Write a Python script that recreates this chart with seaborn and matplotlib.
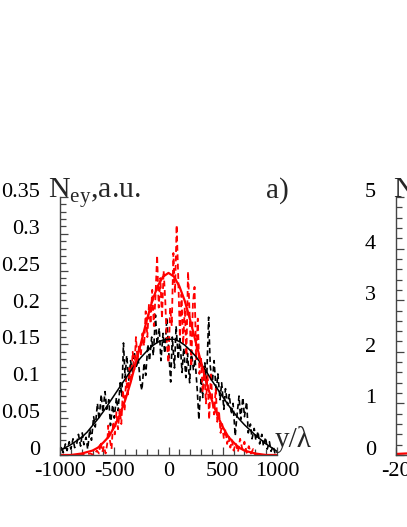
import numpy as np
import pandas as pd
import seaborn as sns
import matplotlib
matplotlib.use("Agg")
import matplotlib.pyplot as plt
from matplotlib.ticker import MultipleLocator

# ---- data ----
# smooth fits (x in units of lambda)
fit_x = [-1000, -950, -900, -850, -800, -750, -700, -650, -600, -550,
         -500, -450, -400, -350, -300, -250, -200, -150, -100, -50,
         0, 50, 100, 150, 200, 250, 300, 350, 400, 450,
         500, 550, 600, 650, 700, 750, 800, 850, 900, 950, 1000]
black_fit = [0.006, 0.010, 0.014, 0.019, 0.024, 0.031, 0.040, 0.049, 0.059, 0.070,
             0.081, 0.092, 0.103, 0.114, 0.124, 0.133, 0.141, 0.148, 0.153, 0.156,
             0.157, 0.157, 0.154, 0.149, 0.142, 0.134, 0.124, 0.113, 0.101, 0.090,
             0.079, 0.068, 0.058, 0.049, 0.041, 0.034, 0.027, 0.021, 0.015, 0.010, 0.005]
red_fit = [0.0, 0.0, 0.0, 0.001, 0.002, 0.004, 0.006, 0.010, 0.017, 0.025,
           0.038, 0.054, 0.074, 0.098, 0.126, 0.154, 0.183, 0.209, 0.229, 0.242,
           0.247, 0.242, 0.229, 0.209, 0.183, 0.154, 0.126, 0.098, 0.074, 0.054,
           0.038, 0.025, 0.017, 0.010, 0.006, 0.004, 0.002, 0.001, 0.0, 0.0, 0.0]

# noisy black distribution
black_x = [-1000, -985, -970, -950, -935, -915, -900, -880, -865, -845,
           -830, -810, -795, -780, -760, -745, -725, -710, -690, -675,
           -655, -640, -620, -605, -585, -570, -550, -535, -515, -500,
           -480, -465, -445, -430, -415, -400, -385, -365, -350, -330,
           -315, -295, -280, -260, -245, -225, -210, -190, -175, -155,
           -140, -120, -105, -85, -70, -50, -35, -15, 0, 20,
           35, 55, 70, 90, 105, 125, 140, 160, 175, 195,
           210, 230, 245, 265, 280, 300, 315, 335, 350, 370,
           385, 405, 420, 440, 455, 475, 490, 510, 525, 545,
           560, 580, 595, 615, 630, 650, 665, 685, 700, 720,
           735, 755, 770, 790, 805, 825, 840, 860, 875, 895,
           910, 930, 945, 965, 980, 1000]
black_y = [0.004, 0.012, 0.003, 0.015, 0.006, 0.018, 0.008, 0.022, 0.010, 0.016,
           0.028, 0.012, 0.030, 0.014, 0.024, 0.008, 0.035, 0.020, 0.052, 0.038,
           0.070, 0.048, 0.082, 0.058, 0.086, 0.062, 0.075, 0.040, 0.068, 0.050,
           0.078, 0.060, 0.098, 0.080, 0.152, 0.105, 0.135, 0.100, 0.128, 0.112,
           0.140, 0.118, 0.132, 0.098, 0.088, 0.125, 0.108, 0.150, 0.128, 0.160,
           0.135, 0.190, 0.150, 0.172, 0.128, 0.165, 0.138, 0.186, 0.145, 0.099,
           0.160, 0.118, 0.175, 0.130, 0.158, 0.112, 0.145, 0.105, 0.138, 0.098,
           0.142, 0.115, 0.130, 0.088, 0.048, 0.105, 0.078, 0.125, 0.095, 0.187,
           0.120, 0.100, 0.128, 0.085, 0.110, 0.075, 0.098, 0.062, 0.090, 0.068,
           0.082, 0.055, 0.070, 0.026, 0.052, 0.080, 0.048, 0.078, 0.052, 0.072,
           0.030, 0.042, 0.022, 0.036, 0.020, 0.032, 0.015, 0.028, 0.012, 0.024,
           0.008, 0.018, 0.005, 0.012, 0.003, 0.006]

# noisy red distribution
red_x = [-1000, -900, -800, -720, -690, -660, -640, -625, -610, -595,
         -580, -565, -555, -540, -525, -510, -495, -480, -465, -450,
         -435, -420, -405, -390, -375, -360, -345, -330, -315, -300,
         -285, -270, -255, -240, -225, -210, -195, -180, -165, -150,
         -135, -120, -105, -90, -75, -60, -45, -30, -15, 0,
         15, 30, 45, 60, 75, 90, 105, 120, 135, 150,
         165, 180, 195, 210, 225, 240, 255, 270, 285, 300,
         315, 330, 345, 360, 375, 390, 405, 420, 435, 450,
         465, 480, 495, 510, 525, 540, 555, 570, 585, 600,
         620, 640, 660, 680, 700, 720, 740, 760, 780, 800,
         850, 900, 1000]
red_y = [0.0, 0.0, 0.0, 0.002, 0.0, 0.006, 0.002, 0.018, 0.004, 0.012,
         0.002, 0.015, 0.040, 0.020, 0.008, 0.045, 0.028, 0.058, 0.035, 0.062,
         0.042, 0.088, 0.060, 0.105, 0.082, 0.118, 0.098, 0.140, 0.115, 0.160,
         0.128, 0.150, 0.135, 0.165, 0.148, 0.195, 0.160, 0.205, 0.178, 0.224,
         0.175, 0.215, 0.271, 0.200, 0.240, 0.185, 0.250, 0.210, 0.150, 0.125,
         0.200, 0.175, 0.274, 0.220, 0.312, 0.240, 0.160, 0.218, 0.150, 0.200,
         0.135, 0.249, 0.190, 0.120, 0.205, 0.228, 0.130, 0.185, 0.110, 0.132,
         0.085, 0.118, 0.070, 0.108, 0.048, 0.112, 0.072, 0.055, 0.090, 0.045,
         0.060, 0.030, 0.042, 0.022, 0.035, 0.015, 0.025, 0.010, 0.020, 0.006,
         0.016, 0.004, 0.022, 0.008, 0.018, 0.003, 0.012, 0.002, 0.008, 0.0,
         0.0, 0.0, 0.0]

# second panel (only its left edge is visible)
p2_x = [-20, -18, -16]
p2_y = [0.02, 0.03, 0.02]

# ---- style ----
sns.set_style("ticks")
plt.rcParams['font.family'] = ['Liberation Serif', 'DejaVu Serif']
plt.rcParams['mathtext.fontset'] = 'custom'
plt.rcParams['mathtext.rm'] = 'Liberation Serif'
plt.rcParams['axes.unicode_minus'] = False

W, H = 407, 527
fig = plt.figure(figsize=(W / 100, H / 100), dpi=100)

ax = fig.add_axes([60 / W, 72 / H, 217 / W, 258 / H])
ax2 = fig.add_axes([396 / W, 72 / H, 217 / W, 258 / H])

dash = (0, (3.2, 2.0))
sns.lineplot(x=black_x, y=black_y, ax=ax, color='black', lw=1.2,
             linestyle=dash, estimator=None, sort=False)
sns.lineplot(x=red_x, y=red_y, ax=ax, color='red', lw=1.3,
             linestyle=dash, estimator=None, sort=False)
sns.lineplot(x=fit_x, y=black_fit, ax=ax, color='black', lw=1.1,
             estimator=None, sort=False)
sns.lineplot(x=fit_x, y=red_fit, ax=ax, color='red', lw=1.6,
             estimator=None, sort=False)

sns.lineplot(x=p2_x, y=p2_y, ax=ax2, color='red', lw=1.6,
             estimator=None, sort=False)

axis_col = '#444444'
for a in (ax, ax2):
    sns.despine(ax=a)
    for s in ('left', 'bottom'):
        a.spines[s].set_color(axis_col)
        a.spines[s].set_linewidth(1.0)
    a.tick_params(which='both', direction='in', colors=axis_col,
                  labelcolor='black', labelsize=16)
    a.tick_params(which='major', length=6, width=0.9)
    a.tick_params(which='minor', length=4, width=0.9)
    a.tick_params(axis='y', pad=14.5)
    a.tick_params(axis='x', pad=5)

ax.set_xlim(-1000, 1000)
ax.set_ylim(0, 0.35)
ax.xaxis.set_major_locator(MultipleLocator(500))
ax.xaxis.set_minor_locator(MultipleLocator(100))
ax.yaxis.set_major_locator(MultipleLocator(0.05))
ax.yaxis.set_minor_locator(MultipleLocator(0.01))
ax.set_yticks([0, 0.05, 0.1, 0.15, 0.2, 0.25, 0.3, 0.35])
ax.set_yticklabels(['0', '0.05', '0.1', '0.15', '0.2', '0.25', '0.3', '0.35'])
ax.set_xticks([-1000, -500, 0, 500, 1000])
ax.set_xticklabels(['-1000', '-500', '0', '500', '1000'])

ax2.set_xlim(-20, 20)
ax2.set_ylim(0, 5)
ax2.set_xticks([-20, -10, 0, 10, 20])
ax2.set_xticklabels(['-20', '-10', '0', '10', '20'])
ax2.yaxis.set_major_locator(MultipleLocator(1))
ax2.yaxis.set_minor_locator(MultipleLocator(0.2))
ax2.set_yticks([0, 1, 2, 3, 4, 5])
ax2.set_yticklabels(['0', '1', '2', '3', '4', '5'])

for a in (ax, ax2):
    a.set_xlabel('')
    a.set_ylabel('')
    plt.setp(a.get_yticklabels(), va='baseline')


def px_text(x, y, s, **kw):
    fig.text(x / W, 1 - y / H, s, ha='left', va='baseline', **kw)


px_text(48, 198, r'N$_{\mathrm{ey}}$,a.u.', fontsize=21.5)
px_text(266, 198, 'a)', fontsize=21)
px_text(275, 447, 'y/λ', fontsize=21)
px_text(393, 198, r'N$_{\mathrm{ez}}$,a.u.', fontsize=21.5)

fig.savefig('out.png', dpi=100)
